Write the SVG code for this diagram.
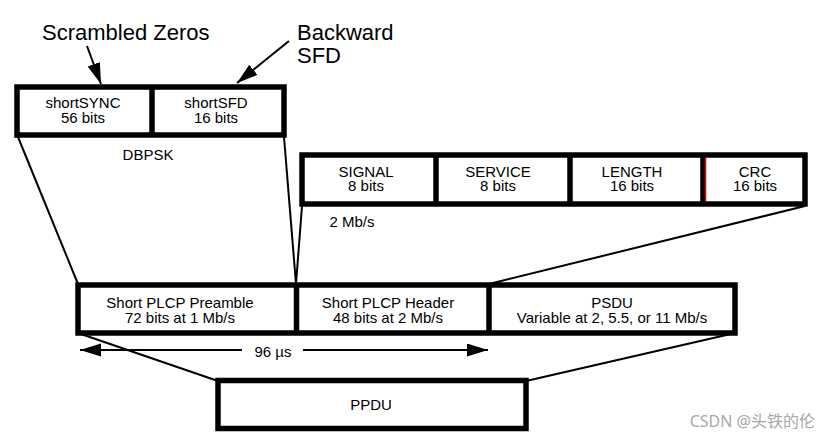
<svg xmlns="http://www.w3.org/2000/svg" width="825" height="442" viewBox="0 0 825 442">
<defs>
<style>
.box{fill:#fff;stroke:#000;stroke-width:5.5}
.div{stroke:#000;stroke-width:5.5;fill:none}
.ln{stroke:#000;stroke-width:2;fill:none}
.t{font-family:"Liberation Sans",Arial,sans-serif;font-size:15px;fill:#000;text-anchor:middle}
.big{font-family:"Liberation Sans",Arial,sans-serif;font-size:22px;fill:#000}
</style>
<marker id="ah" markerUnits="userSpaceOnUse" markerWidth="22" markerHeight="14" refX="21" refY="6.5" orient="auto">
<path d="M0,0 L21,6.5 L0,13 z" fill="#000"/>
</marker>
</defs>
<rect width="825" height="442" fill="#fff"/>

<g id="connectors">
<line class="ln" x1="18" y1="137" x2="78" y2="284"/>
<line class="ln" x1="284" y1="137" x2="296" y2="284"/>
<line class="ln" x1="302" y1="206" x2="296" y2="284"/>
<line class="ln" x1="805" y1="206" x2="489" y2="284"/>
<line class="ln" x1="78" y1="333" x2="218" y2="381"/>
<line class="ln" x1="735" y1="333" x2="526" y2="381"/>
<line class="ln" stroke-width="1.5" x1="87" y1="46" x2="101" y2="84" marker-end="url(#ah)"/>
<line class="ln" stroke-width="1.5" x1="289" y1="41" x2="237" y2="83" marker-end="url(#ah)"/>
<line class="ln" stroke-width="1.5" x1="242" y1="350" x2="80" y2="350" marker-end="url(#ah)"/>
<line class="ln" stroke-width="1.5" x1="303" y1="350" x2="488" y2="350" marker-end="url(#ah)"/>
</g>

<g id="label-scrambled"><text class="big" x="42" y="40">Scrambled Zeros</text></g>
<g id="label-backward"><text class="big" x="297" y="40">Backward</text><text class="big" x="297" y="63">SFD</text></g>

<g id="preamble-fields">
<rect class="box" x="17" y="87" width="267" height="48"/>
<line class="div" x1="152" y1="87" x2="152" y2="135"/>
<text class="t" x="83" y="108">shortSYNC</text>
<text class="t" x="83" y="123">56 bits</text>
<text class="t" x="216" y="108">shortSFD</text>
<text class="t" x="216" y="123">16 bits</text>
</g>
<g id="label-dbpsk"><text class="t" x="148" y="160">DBPSK</text></g>

<g id="header-fields">
<rect class="box" x="302" y="155" width="503" height="49"/>
<line class="div" x1="436" y1="155" x2="436" y2="204"/>
<line class="div" x1="570" y1="155" x2="570" y2="204"/>
<line class="div" x1="703" y1="155" x2="703" y2="204"/>
<line stroke="#e00000" stroke-width="1.5" x1="705.5" y1="158" x2="705.5" y2="201"/>
<text class="t" x="366" y="177">SIGNAL</text>
<text class="t" x="366" y="191">8 bits</text>
<text class="t" x="498" y="177">SERVICE</text>
<text class="t" x="498" y="191">8 bits</text>
<text class="t" x="632" y="177">LENGTH</text>
<text class="t" x="632" y="191">16 bits</text>
<text class="t" x="755" y="177">CRC</text>
<text class="t" x="755" y="191">16 bits</text>
</g>
<g id="label-2mbps"><text class="t" x="352" y="227">2 Mb/s</text></g>

<g id="ppdu-fields">
<rect class="box" x="78" y="285" width="657" height="48"/>
<line class="div" x1="296.5" y1="285" x2="296.5" y2="333"/>
<line class="div" x1="489" y1="285" x2="489" y2="333"/>
<text class="t" x="180" y="308">Short PLCP Preamble</text>
<text class="t" x="180" y="323">72 bits at 1 Mb/s</text>
<text class="t" x="388" y="308">Short PLCP Header</text>
<text class="t" x="388" y="323">48 bits at 2 Mb/s</text>
<text class="t" x="612" y="308">PSDU</text>
<text class="t" x="612" y="323">Variable at 2, 5.5, or 11 Mb/s</text>
</g>
<g id="label-96us"><text class="t" x="273" y="357">96 µs</text></g>

<g id="ppdu">
<rect class="box" x="218" y="380.5" width="308" height="48"/>
<text class="t" x="371" y="410">PPDU</text>
</g>

<g id="watermark"><text x="815" y="427" font-family="'Noto Sans','Noto Sans CJK SC',sans-serif" font-size="16" fill="#a8a8a8" text-anchor="end">CSDN @头铁的伦</text></g>
</svg>
